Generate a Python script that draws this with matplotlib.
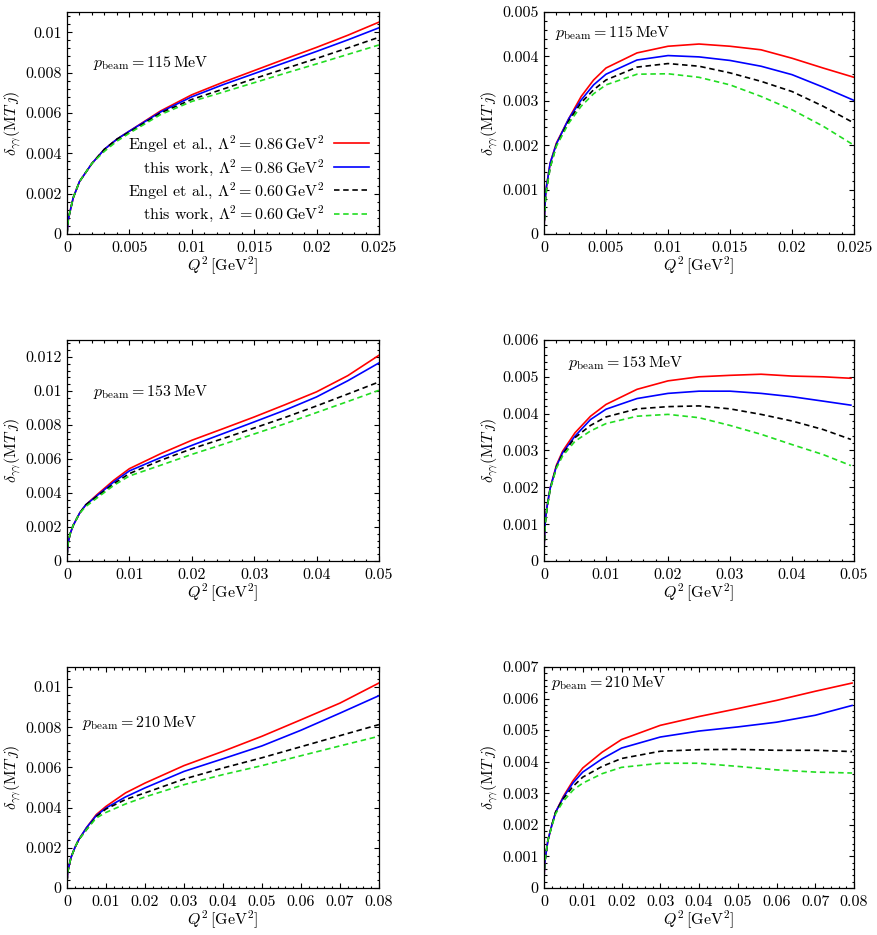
import numpy as np
import matplotlib
matplotlib.use("Agg")
import matplotlib.pyplot as plt
from matplotlib.ticker import MultipleLocator, AutoMinorLocator, FuncFormatter

plt.rcParams['font.family'] = 'cmr10'
plt.rcParams['mathtext.fontset'] = 'cm'
plt.rcParams['axes.formatter.use_mathtext'] = True
plt.rcParams['font.size'] = 11.5

# ---- data (Q^2 in GeV^2, delta in units of 1) ----
labels = [r'Engel et al., $\Lambda^2 = 0.86\,\mathrm{GeV}^2$',
          r'this work, $\Lambda^2 = 0.86\,\mathrm{GeV}^2$',
          r'Engel et al., $\Lambda^2 = 0.60\,\mathrm{GeV}^2$',
          r'this work, $\Lambda^2 = 0.60\,\mathrm{GeV}^2$']
beam_labels = [r'$p_\mathrm{beam} = 115\,\mathrm{MeV}$',
               r'$p_\mathrm{beam} = 153\,\mathrm{MeV}$',
               r'$p_\mathrm{beam} = 210\,\mathrm{MeV}$']

# p = 115 MeV, left
q_tl = [0, 0.0001, 0.0002, 0.0005, 0.001, 0.002, 0.003, 0.004, 0.005, 0.0075, 0.01, 0.0125, 0.015, 0.0175, 0.02, 0.0225, 0.025]
tl_engel086 = [0, 0.0007, 0.001, 0.0018, 0.0026, 0.0035, 0.0042, 0.0047, 0.0051, 0.0061, 0.0069, 0.00752, 0.0081, 0.00868, 0.00925, 0.00985, 0.0105]
tl_work086 = [0, 0.0007, 0.001, 0.0018, 0.0026, 0.0035, 0.0042, 0.0047, 0.0051, 0.00605, 0.0068, 0.0074, 0.00795, 0.0085, 0.00905, 0.00962, 0.01022]
tl_engel060 = [0, 0.0007, 0.001, 0.0018, 0.0026, 0.0035, 0.0042, 0.0047, 0.00505, 0.006, 0.00667, 0.00718, 0.0077, 0.0082, 0.0087, 0.00922, 0.00975]
tl_work060 = [0, 0.0007, 0.001, 0.0018, 0.0026, 0.0035, 0.0041, 0.0046, 0.005, 0.00592, 0.00657, 0.00703, 0.0075, 0.00797, 0.00843, 0.0089, 0.00937]

# p = 115 MeV, right
q_tr = [0, 0.0001, 0.0002, 0.0005, 0.001, 0.002, 0.003, 0.004, 0.005, 0.0075, 0.01, 0.0125, 0.015, 0.0175, 0.02, 0.0225, 0.025]
tr_engel086 = [0.0001, 0.0008, 0.00107, 0.0016, 0.00205, 0.0026, 0.0031, 0.00347, 0.00374, 0.00408, 0.00423, 0.00428, 0.00423, 0.00415, 0.00396, 0.00374, 0.00353]
tr_work086 = [0.0001, 0.0008, 0.00107, 0.0016, 0.00203, 0.0026, 0.00302, 0.00336, 0.0036, 0.00392, 0.00402, 0.00399, 0.00391, 0.00378, 0.00359, 0.00331, 0.00301]
tr_engel060 = [0.0001, 0.0007, 0.001, 0.0015, 0.002, 0.00255, 0.00296, 0.00325, 0.00347, 0.00376, 0.00384, 0.00378, 0.00363, 0.00344, 0.00321, 0.00288, 0.0025]
tr_work060 = [0.0001, 0.0007, 0.001, 0.0015, 0.00198, 0.0025, 0.00288, 0.00316, 0.00336, 0.0036, 0.00361, 0.00353, 0.00336, 0.0031, 0.0028, 0.00243, 0.002]

# p = 153 MeV, left
q_ml = [0, 0.0002, 0.0005, 0.001, 0.002, 0.003, 0.005, 0.0075, 0.01, 0.015, 0.02, 0.025, 0.03, 0.035, 0.04, 0.045, 0.05]
ml_engel086 = [0.0003, 0.0011, 0.0016, 0.0021, 0.0028, 0.0033, 0.00396, 0.00475, 0.00543, 0.00631, 0.0071, 0.00778, 0.00847, 0.0092, 0.00995, 0.0109, 0.0121]
ml_work086 = [0.0003, 0.0011, 0.0016, 0.0021, 0.0028, 0.0033, 0.0039, 0.00465, 0.0053, 0.00608, 0.0068, 0.00749, 0.00818, 0.00888, 0.00965, 0.0106, 0.01165]
ml_engel060 = [0.0003, 0.0011, 0.0016, 0.0021, 0.0028, 0.0033, 0.00385, 0.00455, 0.00514, 0.00592, 0.0066, 0.0072, 0.00782, 0.00845, 0.00912, 0.00982, 0.01053]
ml_work060 = [0.0003, 0.0011, 0.0016, 0.0021, 0.0028, 0.0032, 0.00376, 0.00445, 0.005, 0.00563, 0.00627, 0.00686, 0.00747, 0.00808, 0.00873, 0.00938, 0.01004]

# p = 153 MeV, right
q_mr = [0, 0.0002, 0.0005, 0.001, 0.002, 0.003, 0.005, 0.0075, 0.01, 0.015, 0.02, 0.025, 0.03, 0.035, 0.04, 0.045, 0.0495]
mr_engel086 = [0.0003, 0.0011, 0.00149, 0.00198, 0.0026, 0.00298, 0.00348, 0.00393, 0.00425, 0.00466, 0.00489, 0.005, 0.00504, 0.00507, 0.00502, 0.005, 0.00496]
mr_work086 = [0.0003, 0.0011, 0.00149, 0.00198, 0.00257, 0.00294, 0.00339, 0.00384, 0.00412, 0.00441, 0.00455, 0.00461, 0.00461, 0.00455, 0.00446, 0.00434, 0.00423]
mr_engel060 = [0.0003, 0.001, 0.00145, 0.00195, 0.00255, 0.0029, 0.00335, 0.00368, 0.00391, 0.00413, 0.00419, 0.00421, 0.00413, 0.00398, 0.0038, 0.00357, 0.0033]
mr_work060 = [0.0003, 0.001, 0.00145, 0.00195, 0.00252, 0.00285, 0.00325, 0.00353, 0.00373, 0.00393, 0.00398, 0.00389, 0.00368, 0.00344, 0.00316, 0.00289, 0.00259]

# p = 210 MeV, left
q_bl = [0, 0.0002, 0.0005, 0.001, 0.002, 0.003, 0.005, 0.0075, 0.01, 0.015, 0.02, 0.03, 0.04, 0.05, 0.06, 0.07, 0.08]
bl_engel086 = [0.0003, 0.0008, 0.00108, 0.0015, 0.002, 0.0024, 0.003, 0.00365, 0.00406, 0.00473, 0.00522, 0.00609, 0.0068, 0.00755, 0.00837, 0.0092, 0.0102]
bl_work086 = [0.0003, 0.0008, 0.00108, 0.0015, 0.002, 0.0024, 0.003, 0.0036, 0.00398, 0.00453, 0.00498, 0.0058, 0.00643, 0.00707, 0.00785, 0.0087, 0.00957]
bl_engel060 = [0.0003, 0.0008, 0.00108, 0.0015, 0.002, 0.0024, 0.0029, 0.00355, 0.00393, 0.0044, 0.00473, 0.00542, 0.00597, 0.00648, 0.00703, 0.00758, 0.00813]
bl_work060 = [0.0003, 0.0008, 0.00108, 0.0015, 0.002, 0.0024, 0.0029, 0.00348, 0.00376, 0.00418, 0.00453, 0.00514, 0.00564, 0.00609, 0.00658, 0.00707, 0.00755]

# p = 210 MeV, right
q_br = [0, 0.0002, 0.0005, 0.001, 0.002, 0.003, 0.005, 0.0075, 0.01, 0.015, 0.02, 0.03, 0.04, 0.05, 0.06, 0.07, 0.0795]
br_engel086 = [0.0003, 0.0008, 0.00108, 0.0015, 0.00198, 0.0024, 0.0029, 0.0034, 0.0038, 0.0043, 0.0047, 0.00515, 0.00543, 0.00568, 0.00594, 0.00623, 0.00649]
br_work086 = [0.0003, 0.0008, 0.00108, 0.0015, 0.00198, 0.0024, 0.00287, 0.00333, 0.00367, 0.00409, 0.00443, 0.00478, 0.00497, 0.0051, 0.00525, 0.00547, 0.00578]
br_engel060 = [0.0003, 0.0008, 0.00108, 0.0015, 0.00198, 0.0024, 0.00283, 0.00322, 0.00351, 0.00385, 0.0041, 0.00433, 0.00438, 0.00439, 0.00436, 0.00436, 0.00432]
br_work060 = [0.0003, 0.0008, 0.00108, 0.0015, 0.00195, 0.00235, 0.00275, 0.0031, 0.00332, 0.00362, 0.00382, 0.00395, 0.00395, 0.00385, 0.00374, 0.00367, 0.00364]

# ---- styling ----
line_colors = ['#ff0000', '#0000ff', '#000000', '#22dd22']
line_styles = ['-', '-', (0, (3.3, 2.2)), (0, (3.3, 2.2))]


def make_panel(fig, rect, q, curves, xmax, xstep, ymax, ystep, beam_text, text_pos, show_legend=False):
    """Draws one panel with the four curves."""
    ax = fig.add_axes(rect)
    for y, c, ls, lab in zip(curves, line_colors, line_styles, labels):
        ax.plot(q, y, color=c, linestyle=ls, lw=1.2, label=lab)

    ax.set_xlim(0, xmax)
    ax.set_ylim(0, ymax)
    ax.xaxis.set_major_locator(MultipleLocator(xstep))
    ax.yaxis.set_major_locator(MultipleLocator(ystep))
    ax.xaxis.set_minor_locator(AutoMinorLocator(5))
    ax.yaxis.set_minor_locator(AutoMinorLocator(5))
    fmt = FuncFormatter(lambda v, p: '%g' % round(v, 6))
    ax.xaxis.set_major_formatter(fmt)
    ax.yaxis.set_major_formatter(fmt)
    ax.tick_params(which='both', direction='in', top=True, right=True, width=0.8)
    ax.tick_params(which='major', length=3.5)
    ax.tick_params(which='minor', length=1.8)
    ax.tick_params(axis='x', pad=5)
    ax.tick_params(axis='y', pad=4)
    for s in ax.spines.values():
        s.set_linewidth(0.9)

    ax.set_xlabel(r'$Q^2\,[\mathrm{GeV}^2]$', labelpad=0)
    ax.set_ylabel(r'$\delta_{\gamma\gamma}(\mathrm{M}T\,j)$', labelpad=1.5)
    ax.text(text_pos[0], text_pos[1], beam_text, transform=ax.transAxes, ha='left', va='center')

    if show_legend:
        ax.legend(loc='lower right', markerfirst=False, frameon=False,
                  handlelength=2.2, handletextpad=0.6, labelspacing=0.18,
                  borderaxespad=0.3, borderpad=0.3)
    return ax


fig = plt.figure(figsize=(8.77, 9.35), dpi=100)

lx, rx = 0.0764, 0.6203
w_l, w_r = 0.3557, 0.3535
rows = [0.7497, 0.4000, 0.0503]
h = 0.2364

make_panel(fig, [lx, rows[0], w_l, 0.2374], q_tl, [tl_engel086, tl_work086, tl_engel060, tl_work060],
           0.025, 0.005, 0.011, 0.002, beam_labels[0], (0.083, 0.77), show_legend=True)
make_panel(fig, [rx, rows[0], w_r, 0.2374], q_tr, [tr_engel086, tr_work086, tr_engel060, tr_work060],
           0.025, 0.005, 0.005, 0.001, beam_labels[0], (0.035, 0.905))
make_panel(fig, [lx, rows[1], w_l, h], q_ml, [ml_engel086, ml_work086, ml_engel060, ml_work060],
           0.05, 0.01, 0.013, 0.002, beam_labels[1], (0.083, 0.765))
make_panel(fig, [rx, rows[1], w_r, h], q_mr, [mr_engel086, mr_work086, mr_engel060, mr_work060],
           0.05, 0.01, 0.006, 0.001, beam_labels[1], (0.077, 0.896))
make_panel(fig, [lx, rows[2], w_l, h], q_bl, [bl_engel086, bl_work086, bl_engel060, bl_work060],
           0.08, 0.01, 0.011, 0.002, beam_labels[2], (0.048, 0.747))
make_panel(fig, [rx, rows[2], w_r, h], q_br, [br_engel086, br_work086, br_engel060, br_work060],
           0.08, 0.01, 0.007, 0.001, beam_labels[2], (0.023, 0.927))

fig.savefig('out.png', dpi=100)
